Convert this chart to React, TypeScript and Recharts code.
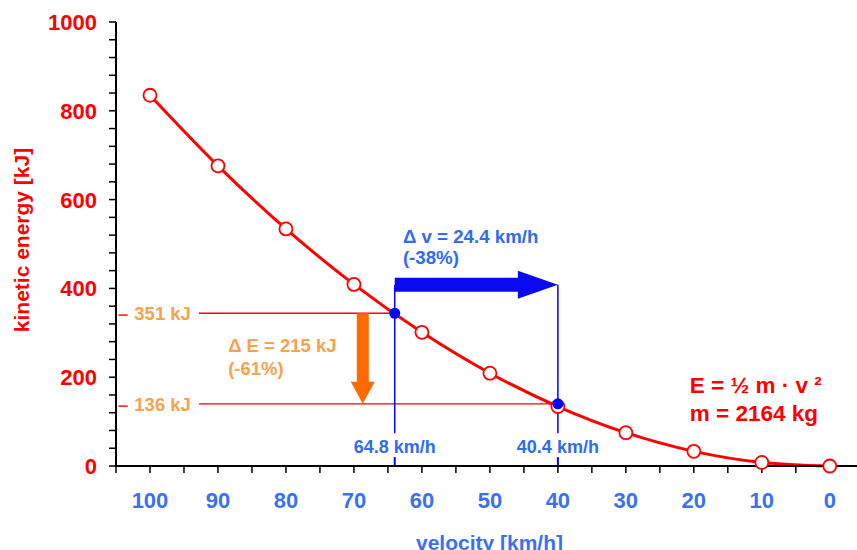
import React from 'react';
import { LineChart, Line, XAxis, YAxis, ReferenceLine, ReferenceDot, Label } from 'recharts';

// velocity (km/h) and kinetic energy (kJ) for m = 2164 kg
const velocity = [100, 90, 80, 70, 60, 50, 40, 30, 20, 10, 0];
const energy = [835, 676, 534, 409, 301, 209, 134, 75, 33, 8, 0];

const xTicks = [105, 100, 95, 90, 85, 80, 75, 70, 65, 60, 55, 50, 45, 40, 35, 30, 25, 20, 15, 10, 5, 0];
const yTicks = [0, 40, 80, 120, 160, 200, 240, 280, 320, 360, 400, 440, 480, 520, 560, 600, 640, 680, 720, 760, 800, 840, 880, 920, 960, 1000];

// braking example, positions as drawn in the picture
const vStart = 64.0;
const vEnd = 40.0;
const eStart = 344;
const eEnd = 140;

const data = velocity.map((v, i) => ({ v, e: energy[i] }));

const FONT = '"Liberation Sans", Arial, Helvetica, sans-serif';
const RED = '#ff0000';
const BLUE = '#0000ff';
const TICK_BLUE = '#3b70f2';
const TEXT_BLUE = '#2f6cf0';
const ORANGE = '#ff6a00';
const TEXT_ORANGE = '#f7a24c';

const XTick = (props: any) => {
  const { x, y, payload } = props;
  if (payload.value % 10 !== 0) return <g />;
  return (
    <text x={x} y={y} dy={33} textAnchor="middle" fill={TICK_BLUE} fontSize={22} fontWeight="bold" fontFamily={FONT}>
      {payload.value}
    </text>
  );
};

const YTick = (props: any) => {
  const { x, y, payload } = props;
  if (payload.value % 200 !== 0) return <g />;
  return (
    <text x={x} y={y} dx={-10} dy={8} textAnchor="end" fill={RED} fontSize={22} fontWeight="bold" fontFamily={FONT}>
      {payload.value}
    </text>
  );
};

// text placed at a data point (cx, cy = first line's vertical centre)
const textShape = (lines: string[], color: string, size: number, anchor: string, gap: number) => (p: any) => (
  <text x={p.cx} y={p.cy} textAnchor={anchor} fill={color} fontSize={size} fontWeight="bold" fontFamily={FONT}>
    {lines.map((l, i) => (
      <tspan key={i} x={p.cx} y={p.cy + i * gap} dy="0.36em">
        {l}
      </tspan>
    ))}
  </text>
);

const levelLabel = (txt: string) => (p: any) => (
  <text x={p.cx} y={p.cy} dy="0.36em" fill={TEXT_ORANGE} fontSize={18.5} fontWeight="bold" fontFamily={FONT}>
    <tspan fill="#f03c30">–</tspan>
    <tspan dx={6}>{txt}</tspan>
  </text>
);

const arrowDown = (p: any) => {
  const { x1, y1, y2 } = p;
  const top = Math.min(y1, y2);
  const bot = Math.max(y1, y2);
  const headLen = 22;
  const sw = 6;
  const hw = 12;
  const pts = [
    [x1 - sw, top],
    [x1 + sw, top],
    [x1 + sw, bot - headLen],
    [x1 + hw, bot - headLen],
    [x1, bot],
    [x1 - hw, bot - headLen],
    [x1 - sw, bot - headLen],
  ];
  return <polygon points={pts.map((q) => q.join(',')).join(' ')} fill={ORANGE} />;
};

const arrowRight = (p: any) => {
  const { x1, x2, y1 } = p;
  const left = Math.min(x1, x2);
  const right = Math.max(x1, x2);
  const headLen = 40;
  const sw = 7;
  const hw = 14;
  const pts = [
    [left, y1 - sw],
    [right - headLen, y1 - sw],
    [right - headLen, y1 - hw],
    [right, y1],
    [right - headLen, y1 + hw],
    [right - headLen, y1 + sw],
    [left, y1 + sw],
  ];
  return <polygon points={pts.map((q) => q.join(',')).join(' ')} fill="#0a0af2" />;
};

export default function App() {
  return (
    <div style={{ width: 857, height: 550, background: '#fff' }}>
      <style>{'body{margin:0}'}</style>
      <LineChart width={857} height={550} data={data} margin={{ top: 22, right: 0, bottom: 0, left: 0 }}>
        <XAxis
          dataKey="v"
          type="number"
          domain={[-4, 105]}
          reversed
          ticks={xTicks}
          interval={0}
          tick={<XTick />}
          tickSize={7}
          height={84}
          stroke="#000"
          axisLine={{ stroke: '#000', strokeWidth: 2 }}
          tickLine={{ stroke: '#000', strokeWidth: 1.5 }}
        >
          <Label
            content={(p: any) => (
              <text
                x={p.viewBox.x + p.viewBox.width / 2 + 3}
                y={550}
                textAnchor="middle"
                fill={TICK_BLUE}
                fontSize={21}
                fontWeight="bold"
                fontFamily={FONT}
              >
                velocity [km/h]
              </text>
            )}
          />
        </XAxis>
        <YAxis
          type="number"
          domain={[0, 1000]}
          ticks={yTicks}
          interval={0}
          tick={<YTick />}
          tickSize={7}
          width={116}
          axisLine={{ stroke: '#000', strokeWidth: 2 }}
          tickLine={{ stroke: '#000', strokeWidth: 1.5 }}
        >
          <Label
            content={() => (
              <text
                x={21}
                y={240}
                transform="rotate(-90, 21, 240)"
                textAnchor="middle"
                dominantBaseline="central"
                fill={RED}
                fontSize={21}
                fontWeight="bold"
                fontFamily={FONT}
              >
                kinetic energy [kJ]
              </text>
            )}
          />
        </YAxis>

        {/* energy levels */}
        <ReferenceLine segment={[{ x: 92.8, y: eStart }, { x: vStart, y: eStart }]} stroke={RED} strokeWidth={1.3} />
        <ReferenceLine segment={[{ x: 92.8, y: eEnd }, { x: vEnd, y: eEnd }]} stroke={RED} strokeWidth={1.3} />

        {/* velocity markers */}
        <ReferenceLine segment={[{ x: vStart, y: 408 }, { x: vStart, y: 74 }]} stroke={BLUE} strokeWidth={1.5} />
        <ReferenceLine segment={[{ x: vEnd, y: 408 }, { x: vEnd, y: 74 }]} stroke={BLUE} strokeWidth={1.5} />
        <ReferenceLine segment={[{ x: vStart, y: 20 }, { x: vStart, y: 0 }]} stroke={BLUE} strokeWidth={2} />
        <ReferenceLine segment={[{ x: vEnd, y: 20 }, { x: vEnd, y: 0 }]} stroke={BLUE} strokeWidth={2} />

        <Line
          dataKey="e"
          type="monotone"
          stroke={RED}
          strokeWidth={3}
          dot={{ r: 6.5, fill: '#fff', stroke: RED, strokeWidth: 1.8 }}
          activeDot={false}
          isAnimationActive={false}
        />

        <ReferenceDot x={vStart} y={eStart} r={5.5} fill={BLUE} stroke="none" />
        <ReferenceDot x={vEnd} y={eEnd} r={5.5} fill={BLUE} stroke="none" />

        {/* arrows */}
        <ReferenceLine segment={[{ x: 68.7, y: eStart }, { x: 68.7, y: eEnd }]} shape={arrowDown} />
        <ReferenceLine segment={[{ x: vStart, y: 408 }, { x: vEnd, y: 408 }]} shape={arrowRight} />

        {/* labels */}
        <ReferenceDot x={104.7} y={eStart} shape={levelLabel('351 kJ')} />
        <ReferenceDot x={104.7} y={eEnd} shape={levelLabel('136 kJ')} />
        <ReferenceDot x={vStart} y={43} shape={textShape(['64.8 km/h'], TEXT_BLUE, 18, 'middle', 0)} />
        <ReferenceDot x={vEnd} y={43} shape={textShape(['40.4 km/h'], TEXT_BLUE, 18, 'middle', 0)} />
        <ReferenceDot x={62.8} y={518} shape={textShape(['Δ v = 24.4 km/h', '(-38%)'], TEXT_BLUE, 18.7, 'start', 21)} />
        <ReferenceDot x={88.5} y={272} shape={textShape(['Δ E = 215 kJ', '(-61%)'], TEXT_ORANGE, 18.5, 'start', 23)} />
        <ReferenceDot x={20.6} y={182} shape={textShape(['E = ½ m · v ²', 'm = 2164 kg'], RED, 22.5, 'start', 28)} />
      </LineChart>
    </div>
  );
}
